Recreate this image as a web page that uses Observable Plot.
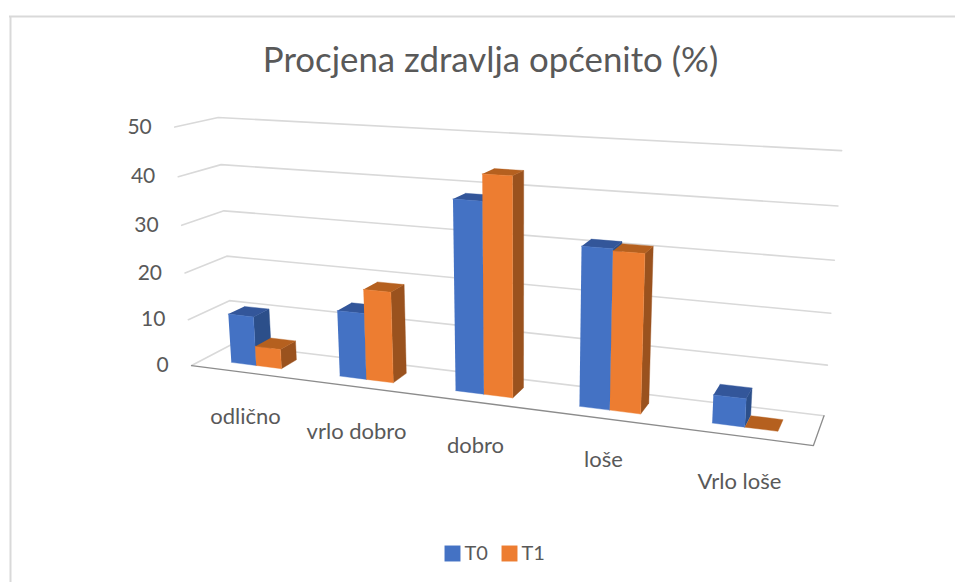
<!DOCTYPE html>
<html><head><meta charset="utf-8">
<script src="https://cdn.jsdelivr.net/npm/d3@7"></script>
<script src="https://cdn.jsdelivr.net/npm/@observablehq/plot@0.6"></script>
<style>html,body{margin:0;padding:0;background:#fff}</style>
</head><body><div id="chart"></div>
<script>
// Data
const categories = ["odlično","vrlo dobro","dobro","loše","Vrlo loše"];
const seriesNames = ["T0","T1"];
const T0 = [10.6,13.9,38.5,31.4,5.5];
const T1 = [4.2,18.9,43.7,31.0,0];
const valueTicks = [0,10,20,30,40,50];

// Perspective camera of the 3D box: (category position, depth 0-1, value) -> page position
const camera = {
  x: [98.59140, 52.96306, -25.33138, 191.09447],
  y: [1.88817, -2.83272, -244.67032, 365.05305],
  w: [-0.031708, 0.053501, -0.048849, 1]
};
const project = (X, D, V) => {
  const p = [X, D, V / 50, 1], dot = a => d3.sum(a, (c, i) => c * p[i]), w = dot(camera.w);
  return {px: dot(camera.x) / w, py: dot(camera.y) / w};
};

// 3D column layout inside each category slot
const slotStart = .26, barWidth = .235, depthFront = .3, depthBack = .7, slots = categories.length;

const faces = [];
const face = (key, name, corners) => corners.forEach(([X, D, V]) => faces.push({key, name, ...project(X, D, V)}));
categories.forEach((c, i) => [T0, T1].forEach((series, j) => {
  const a = i + slotStart + j * barWidth, b = a + barWidth, v = series[i], s = seriesNames[j], k = `${i}${s}`;
  if (v > 0) face(k + "side", s + "side", [[b, depthFront, 0], [b, depthBack, 0], [b, depthBack, v], [b, depthFront, v]]);
  face(k + "top", s + "top", [[a, depthFront, v], [b, depthFront, v], [b, depthBack, v], [a, depthBack, v]]);
  if (v > 0) face(k + "front", s + "front", [[a, depthFront, 0], [b, depthFront, 0], [b, depthFront, v], [a, depthFront, v]]);
}));

const grid = valueTicks.flatMap(v => [[0, 0], [0, 1], [slots, 1]].map(([X, D]) => ({v, ...project(X, D, v)})));
const floorEdge = [[0, 0], [slots, 0], [slots, 1]].map(([X, D]) => project(X, D, 0));
const tickLabels = valueTicks.map(v => { const p = project(0, 0, v); return {v, px: p.px - 23, py: p.py}; });

// Category label anchors as placed in the picture
const labelX = [245, 356, 475, 603, 739];
const labelY = [416, 431, 445, 459, 481];
const catLabels = categories.map((t, i) => ({t, px: labelX[i], py: labelY[i]}));

const ink = "#595959";
document.getElementById("chart").append(Plot.plot({
  width: 955, height: 582, margin: 0,
  x: {domain: [0, 955], range: [0, 955], axis: null},
  y: {domain: [0, 582], range: [0, 582], axis: null},
  color: {domain: ["T0front","T0top","T0side","T1front","T1top","T1side"],
          range: ["#4472c4","#33569a","#2c4f8a","#ed7d31","#b5601f","#9a521e"]},
  style: {fontFamily: "Lato", background: "#fff"},
  marks: [
    Plot.ruleY([16], {x1: 9, x2: 955, stroke: "#d9d9d9", strokeWidth: 2}),
    Plot.ruleX([10], {y1: 16, y2: 582, stroke: "#d9d9d9", strokeWidth: 2}),
    Plot.line(grid, {x: "px", y: "py", z: "v", stroke: "#d9d9d9", strokeWidth: 1.6}),
    Plot.line(floorEdge, {x: "px", y: "py", stroke: "#8c8c8c", strokeWidth: 1.3}),
    Plot.line(faces, {x: "px", y: "py", z: "key", fill: "name", stroke: "name", strokeWidth: .4}),
    Plot.text(tickLabels, {x: "px", y: "py", text: "v", textAnchor: "end", fontSize: 21, fill: ink}),
    Plot.text(catLabels, {x: "px", y: "py", text: "t", fontSize: 22, fill: ink}),
    Plot.text(["Procjena zdravlja općenito (%)"], {x: 490, y: 60, fontSize: 34.8, fill: ink}),
    Plot.dot(seriesNames, {x: (d, i) => 452 + 57 * i, y: 553, symbol: "square", r: 9, fill: d => d + "front", stroke: null}),
    Plot.text(seriesNames, {x: (d, i) => 464 + 57 * i, y: 553, text: d => d, textAnchor: "start", fontSize: 20, fill: ink})
  ]
}));
</script></body></html>
